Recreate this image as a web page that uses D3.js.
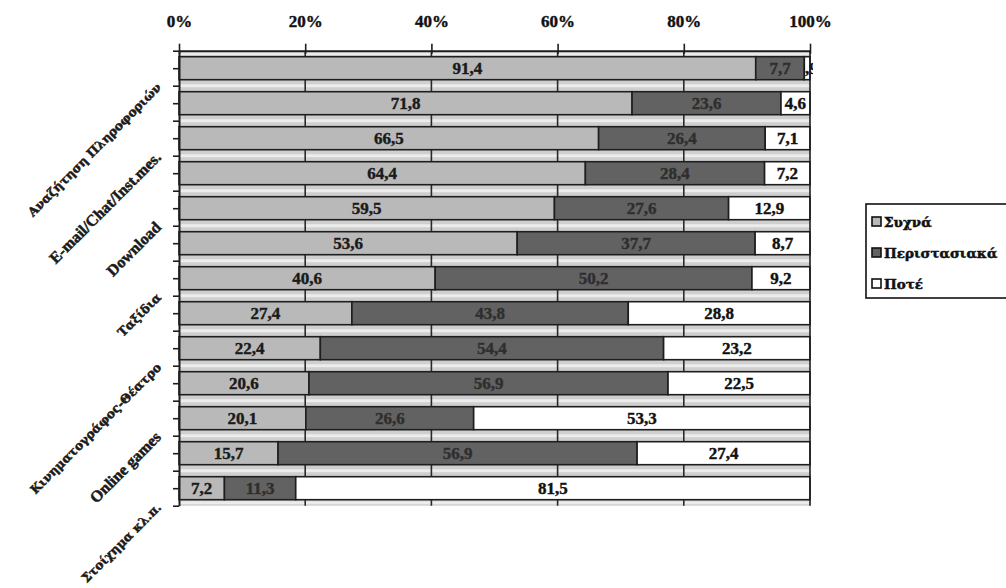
<!DOCTYPE html>
<html><head><meta charset="utf-8">
<script src="https://cdn.jsdelivr.net/npm/d3@7"></script>
<style>
html,body{margin:0;padding:0;background:#fff;}
svg{display:block;}
text{font-family:"Liberation Serif",serif;font-weight:bold;}
text.gr{font-family:"DejaVu Serif","Liberation Serif",serif;font-weight:700;}
</style></head>
<body>
<svg id="chart" width="1006" height="588"></svg>
<script>
// ---- data ----
const categories = ["Αναζήτηση Πληροφοριών","c2","E-mail/Chat/Inst.mes.","c4","Download","c6","Ταξίδια","c8","Κινηματογράφος-Θέατρο","c10","Online games","c12","Στοίχημα κλ.π."];
const tickLabels = ["Αναζήτηση Πληροφοριών","","E-mail/Chat/Inst.mes.","","Download","","Ταξίδια","","Κινηματογράφος-Θέατρο","","Online games","","Στοίχημα κλ.π."];
const seriesNames = ["Συχνά","Περιστασιακά","Ποτέ"];
const often      = [91.4,71.8,66.5,64.4,59.5,53.6,40.6,27.4,22.4,20.6,20.1,15.7,7.2];
const occasional = [7.7,23.6,26.4,28.4,27.6,37.7,50.2,43.8,54.4,56.9,26.6,56.9,11.3];
const never      = [0.9,4.6,7.1,7.2,12.9,8.7,9.2,28.8,23.2,22.5,53.3,27.4,81.5];
const xTicks = [0,20,40,60,80,100];

(function(){
const colors = ["#b9b9b9","#626262","#ffffff"];
const labelColors = ["#1a1a1a","#2e2e2e","#111111"];
const isGreek = s => /[\u0370-\u03ff\u1f00-\u1fff]/.test(s);

const svg = d3.select("#chart");
const pL = 179, pR = 810, pT = 50.7, pB = 505.7;

const x = d3.scaleLinear().domain([0,100]).range([pL,pR]);
const y = d3.scaleBand().domain(d3.range(categories.length)).range([pT,pB])
  .paddingInner(12/35).paddingOuter(6/35);
const yIdx = d3.scaleLinear().domain([0,categories.length]).range([pT,pB]);

// plot background
svg.append("rect").attr("x",pL).attr("y",pT).attr("width",pR-pL).attr("height",pB-pT)
  .attr("fill","#cfcfcf");
// light lines in gaps
svg.append("g").selectAll("line").data(d3.range(categories.length+1)).join("line")
  .attr("x1",pL).attr("x2",pR)
  .attr("y1",d=>yIdx(d)+ (d===0?3:d===categories.length?-3:0))
  .attr("y2",d=>yIdx(d)+ (d===0?3:d===categories.length?-3:0))
  .attr("stroke","#ececec").attr("stroke-width",3);
// vertical gridlines
svg.append("g").selectAll("line").data(xTicks.slice(1,-1)).join("line")
  .attr("x1",d=>x(d)).attr("x2",d=>x(d)).attr("y1",pT).attr("y2",pB)
  .attr("stroke","#2a2a2a").attr("stroke-width",1.6);

// stacked data
const rows = categories.map((c,i)=>{
  const vals=[often[i],occasional[i],never[i]];
  let acc=0;
  return vals.map((v,k)=>{const s={i,k,x0:acc,x1:acc+v,v}; acc+=v; return s;});
});
const segs = rows.flat();

const defs = svg.append("defs");
segs.forEach((s,j)=>{
  defs.append("clipPath").attr("id","clip"+j).append("rect")
    .attr("x",x(s.x0)).attr("y",y(s.i)).attr("width",x(s.x1)-x(s.x0)+3).attr("height",y.bandwidth());
});

const g = svg.append("g");
g.selectAll("rect").data(segs).join("rect")
  .attr("x",d=>x(d.x0)).attr("y",d=>y(d.i))
  .attr("width",d=>x(d.x1)-x(d.x0)).attr("height",y.bandwidth())
  .attr("fill",d=>colors[d.k]).attr("stroke","#1e1e1e").attr("stroke-width",1.6);

g.selectAll("text").data(segs).join("text")
  .attr("clip-path",(d,j)=>"url(#clip"+j+")")
  .attr("x",d=>(x(d.x0)+x(d.x1))/2).attr("y",d=>y(d.i)+y.bandwidth()/2)
  .attr("dy","0.35em").attr("text-anchor","middle")
  .style("font-size","17px").attr("fill",d=>labelColors[d.k])
  .attr("stroke",d=>labelColors[d.k]).attr("stroke-width",0.4)
  .text(d=>d3.format(".1f")(d.v).replace(".",","));

// right border
svg.append("line").attr("x1",pR).attr("x2",pR).attr("y1",pT).attr("y2",pB)
  .attr("stroke","#1e1e1e").attr("stroke-width",1.6);

// top axis
const ax = svg.append("g").attr("transform",`translate(0,${pT})`)
  .call(d3.axisTop(x).tickValues(xTicks).tickFormat(d=>d+"%").tickSizeInner(7).tickSizeOuter(0).tickPadding(17));
ax.select(".domain").attr("stroke","#1e1e1e").attr("stroke-width",2);
ax.selectAll(".tick line").attr("stroke","#1e1e1e").attr("stroke-width",1.6).attr("y2",-7).attr("y1",3);
ax.selectAll(".tick text").attr("fill","#111").attr("stroke","#111").attr("stroke-width",0.4)
  .style("font-size","17px").style("font-family","'Liberation Serif',serif").style("font-weight","bold");

// left axis
const ay = svg.append("g").attr("transform",`translate(${pL},0)`)
  .call(d3.axisLeft(yIdx).tickValues(d3.range(0,categories.length+0.01,0.5)).tickFormat("").tickSizeInner(6).tickSizeOuter(0));
ay.select(".domain").attr("stroke","#1e1e1e").attr("stroke-width",2);
ay.selectAll(".tick line").attr("stroke","#1e1e1e").attr("stroke-width",1.6);

// category labels
svg.append("g").selectAll("text").data(tickLabels.map((t,i)=>({t,i})).filter(d=>d.t)).join("text")
  .attr("class",d=>isGreek(d.t)?"gr":null)
  .attr("transform",d=>`translate(162,${y(d.i)+y.bandwidth()/2+20}) rotate(-45)`)
  .attr("text-anchor","end").style("font-size",d=>isGreek(d.t)?"12.3px":"16px")
  .attr("fill","#1a1a1a").attr("stroke","#1a1a1a").attr("stroke-width",0.5)
  .text(d=>d.t);

// legend
const lg = svg.append("g");
lg.append("rect").attr("x",866).attr("y",204).attr("width",160).attr("height",94)
  .attr("fill","#fff").attr("stroke","#111").attr("stroke-width",1.6);
const ly = [222,253,284];
seriesNames.forEach((n,k)=>{
  lg.append("rect").attr("x",872).attr("y",ly[k]-5).attr("width",9).attr("height",9)
    .attr("fill",colors[k]).attr("stroke","#111").attr("stroke-width",1.6);
  lg.append("text").attr("class","gr").attr("x",884).attr("y",ly[k]).attr("dy","0.35em")
    .style("font-size","13.5px").attr("fill","#111").attr("stroke","#111").attr("stroke-width",0.5).text(n);
});
})();
</script>
</body></html>
